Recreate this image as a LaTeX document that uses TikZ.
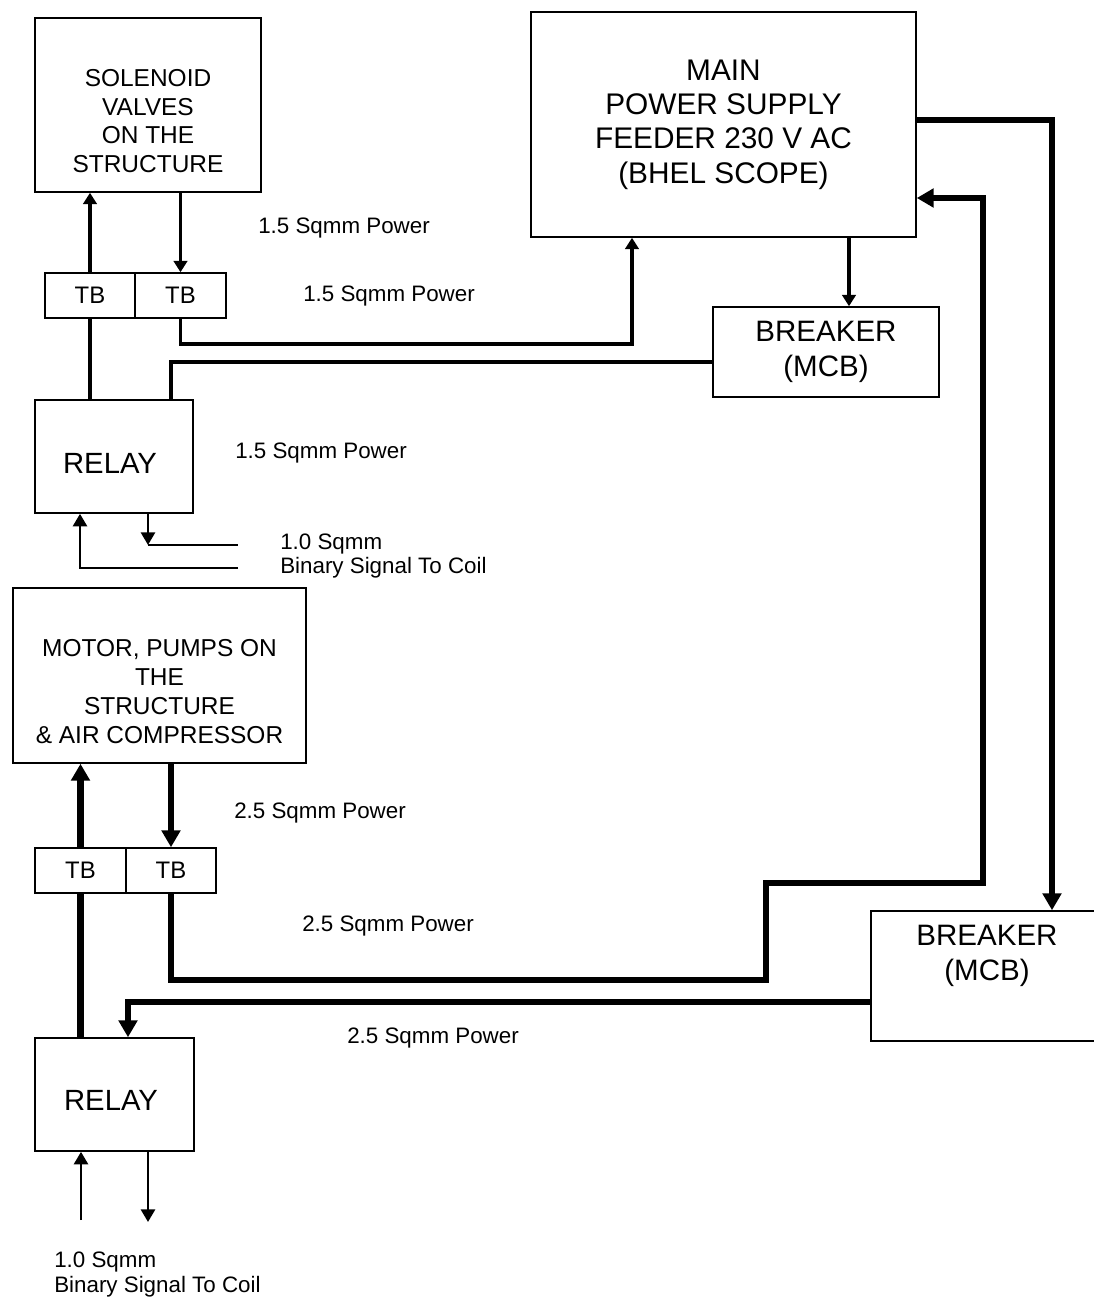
\documentclass[tikz,border=0pt]{standalone}
\usepackage{fontspec}
\setmainfont{Liberation Sans}
\usepackage{tikz}
\usetikzlibrary{arrows.meta, positioning}

\newdimen\pxu
\pxu=0.025cm

\begin{document}
\begin{tikzpicture}[
    x=0.025cm, y=-0.025cm,
    box/.style={rectangle, draw=black, line width=1.1pt, fill=white, inner sep=0pt, align=center},
    tb/.style={box, minimum width=90*\pxu, minimum height=45*\pxu, font=\fontsize{17}{20}\selectfont},
    txt/.style={align=center, inner sep=0pt},
    lbl/.style={align=left, anchor=west, inner sep=0pt, font=\fontsize{15.9}{17.1}\selectfont},
    pw/.style={draw=black, line width=2.3pt, -{Triangle[length=8pt, width=9.5pt]}},
    pwline/.style={draw=black, line width=2.3pt},
    hv/.style={draw=black, line width=4.3pt, -{Triangle[length=12pt, width=13pt]}},
    hvline/.style={draw=black, line width=4.3pt},
    sig/.style={draw=black, line width=1.9pt, -{Triangle[length=9pt, width=10pt]}},
    sigline/.style={draw=black, line width=1.9pt}
]
    \useasboundingbox (0,0) rectangle (1093,1309);

    % Upper circuit
    \node[box, minimum width=226*\pxu, minimum height=174*\pxu] (sol) at (148,105) {};
    \node[txt, font=\fontsize{17.4}{20.3}\selectfont] (soltext) at (148,121) {SOLENOID\\VALVES\\ON THE\\STRUCTURE};
    \node[tb, minimum width=90*\pxu] (tb1a) at (90,295.5) {TB};
    \node[tb, minimum width=91*\pxu] (tb1b) at (180.5,295.5) {TB};
    \node[box, minimum width=158*\pxu, minimum height=113*\pxu] (relay1) at (114,456.5) {};
    \node[txt, font=\fontsize{20.8}{24}\selectfont] (relay1text) at (110,463) {RELAY};

    % Supply and breakers
    \node[box, minimum width=385*\pxu, minimum height=225*\pxu, font=\fontsize{21.2}{24.4}\selectfont] (mainps) at (723.5,124.5) {MAIN\\POWER SUPPLY\\FEEDER 230 V AC\\(BHEL SCOPE)};
    \node[box, minimum width=226*\pxu, minimum height=90*\pxu, font=\fontsize{21}{24.9}\selectfont] (brk1) at (826,352) {BREAKER\\(MCB)};
    \node[box, minimum width=225*\pxu, minimum height=130*\pxu] (brk2) at (983.5,976) {};
    \node[txt, font=\fontsize{21}{24.9}\selectfont] (brk2text) at (987,956) {BREAKER\\(MCB)};

    % Lower circuit
    \node[box, minimum width=293*\pxu, minimum height=175*\pxu] (motor) at (159.5,675.5) {};
    \node[txt, font=\fontsize{17.4}{20.6}\selectfont] (motortext) at (159.5,692) {MOTOR, PUMPS ON\\THE\\STRUCTURE\\\& AIR COMPRESSOR};
    \node[tb, minimum width=91*\pxu] (tb2a) at (80.5,870.5) {TB};
    \node[tb, minimum width=90*\pxu] (tb2b) at (171,870.5) {TB};
    \node[box, minimum width=159*\pxu, minimum height=113*\pxu] (relay2) at (114.5,1094.5) {};
    \node[txt, font=\fontsize{20.8}{24}\selectfont] (relay2text) at (111,1100) {RELAY};

    % Labels
    \node[lbl] (l1) at (258,228) {1.5 Sqmm Power};
    \node[lbl] (l2) at (303,296) {1.5 Sqmm Power};
    \node[lbl] (l3) at (235,453) {1.5 Sqmm Power};
    \node[lbl] (l4) at (280,556) {1.0 Sqmm\\Binary Signal To Coil};
    \node[lbl] (l5) at (234,813) {2.5 Sqmm Power};
    \node[lbl] (l6) at (302,926) {2.5 Sqmm Power};
    \node[lbl] (l7) at (347,1038) {2.5 Sqmm Power};
    \node[lbl] (l8) at (54,1274.5) {1.0 Sqmm\\Binary Signal To Coil};

    % Bend points
    \coordinate (c1) at (632,344);
    \coordinate (c2) at (171,362);
    \coordinate (c3) at (849,0);
    \coordinate (s1) at (148,545);
    \coordinate (s1e) at (238,545);
    \coordinate (s2) at (80,568);
    \coordinate (s2e) at (238,568);
    \coordinate (d1) at (171,980);
    \coordinate (d2) at (766,883);
    \coordinate (d3) at (983,198);
    \coordinate (d4) at (128,1002);
    \coordinate (d5) at (1052,120);
    \coordinate (s3) at (81,1220);
    \coordinate (s4) at (148,1222);

    % 1.5 sqmm wiring
    \draw[pw] (tb1a.north) -- (tb1a.north |- sol.south);
    \draw[pw] (sol.south -| tb1b.north) -- (tb1b.north);
    \draw[pwline] (tb1a.south) -- (tb1a.south |- relay1.north);
    \draw[pw] (tb1b.south) |- (c1) -- (c1 |- mainps.south);
    \draw[pwline] (c2 |- relay1.north) -- (c2) -- (c2 -| brk1.west);
    \draw[pw] (c3 |- mainps.south) -- (c3 |- brk1.north);

    % coil signals
    \draw[sig] (s1 |- relay1.south) -- (s1);
    \draw[sigline] (s1) -- (s1e);
    \draw[sig] (s2e) -- (s2) -- (s2 |- relay1.south);
    \draw[sig] (s3) -- (s3 |- relay2.south);
    \draw[sig] (s4 |- relay2.south) -- (s4);

    % 2.5 sqmm wiring
    \draw[hv] (tb2a.north) -- (tb2a.north |- motor.south);
    \draw[hv] (motor.south -| tb2b.north) -- (tb2b.north);
    \draw[hvline] (tb2a.south) -- (tb2a.south |- relay2.north);
    \draw[hv] (tb2b.south) -- (d1) -| (d2) -| (d3) -- (d3 -| mainps.east);
    \draw[hv] (d4 -| brk2.west) -- (d4) -- (d4 |- relay2.north);
    \draw[hv] (d5 -| mainps.east) -- (d5) -- (d5 |- brk2.north);
\end{tikzpicture}
\end{document}
